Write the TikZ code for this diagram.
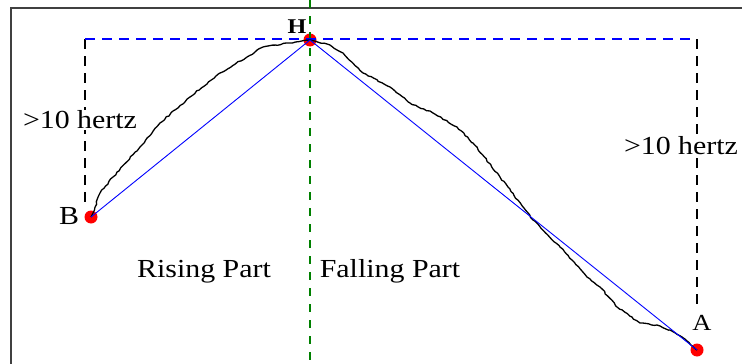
\documentclass[tikz,border=0pt]{standalone}
\usepackage{fontspec}
\usetikzlibrary{calc,decorations.pathmorphing}
\newfontfamily\plotfont[FakeStretch=1.15]{Liberation Serif}
\definecolor{DotRed}{RGB}{255,0,0}
\definecolor{LineBlue}{RGB}{0,0,255}
\definecolor{DashGreen}{RGB}{0,128,0}
\definecolor{FrameGray}{HTML}{404040}

\begin{document}
\begin{tikzpicture}[x=1pt, y=-1pt,
    dot/.style={circle, fill=DotRed, minimum size=13pt, inner sep=0pt},
    chord/.style={LineBlue, line width=0.9pt},
    signal/.style={black, line width=1.3pt, line join=round, decorate,
        decoration={random steps, segment length=3pt, amplitude=0.7pt}},
    guide/.style={black, line width=1.6pt, dash pattern=on 10pt off 7pt},
    level/.style={LineBlue, line width=1.8pt, dash pattern=on 10pt off 7pt},
    split/.style={DashGreen, line width=1.5pt, dash pattern=on 8pt off 8pt},
    lbl/.style={font=\plotfont\fontsize{26}{30}\selectfont, inner sep=1pt}]

    \useasboundingbox (0,0) rectangle (742,364);
    \clip (0,0) rectangle (742,364);
    \pgfmathsetseed{42}

    % frame
    \draw[FrameGray, line width=2pt] (11,8) rectangle (780,400);

    % peak and end points
    \node[dot] (H) at (310,40) {};
    \node[dot] (B) at (91,217) {};
    \node[dot] (A) at (697,350) {};

    \coordinate (tl) at (85,39);
    \coordinate (tr) at (697,39);
    \coordinate (bl) at (85,205);
    \coordinate (br) at (697,305);

    % guides
    \draw[split] (H.center |- 0,0) -- (H.center |- 0,364);
    \draw[guide] (tl) -- (bl);
    \draw[guide] (tr) -- (br);
    \draw[level] (tl) -- (tr);

    % measured curve
    \draw[signal] plot coordinates {
        (B.center) (93,213) (100,193) (113,177) (140,147) (160,123)
        (190,97) (220,73) (247,57) (263,47) (287,43) (H.center)
        (330,45) (343,53) (363,73) (390,87) (410,103) (433,113)
        (457,127) (473,143) (500,177) (533,220) (560,247) (587,277)
        (600,287) (617,307) (640,323) (657,325) (670,330) (682,337)
        (A.center)};

    % straight parts
    \draw[chord] (B.center) -- (H.center);
    \draw[chord] (H.center) -- (A.center);

    % labels
    \node[lbl, fill=white] (hzLeft) at (80,120) {>10 hertz};
    \node[lbl, fill=white] (hzRight) at (681,146) {>10 hertz};
    \node[lbl] (labB) at (69,216) {B};
    \node[lbl, font=\plotfont\fontsize{23}{26}\selectfont] (labA) at (702,323) {A};
    \node[font=\plotfont\bfseries\fontsize{21}{24}\selectfont, inner sep=1pt] (labH) at (297,27) {H};
    \node[lbl] (rising) at (204,272) {Rising Part};
    \node[lbl] (falling) at (390,271) {Falling Part};
\end{tikzpicture}
\end{document}
